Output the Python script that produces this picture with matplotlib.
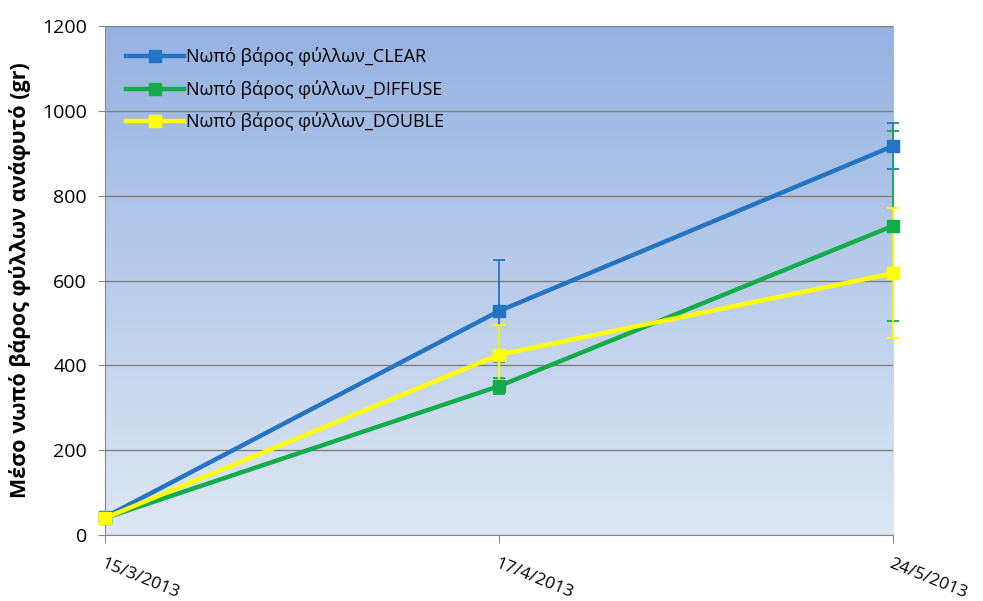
import matplotlib.pyplot as plt
from matplotlib.lines import Line2D
import numpy as np

dates = ['15/3/2013', '17/4/2013', '24/5/2013']
clear = [42, 528, 917]
clear_err = [0, 120, 55]
diffuse = [40, 351, 729]
diffuse_err = [0, 18, 224]
double = [40, 425, 617]
double_err = [0, 70, 153]
labels = ['Νωπό βάρος φύλλων_CLEAR', 'Νωπό βάρος φύλλων_DIFFUSE',
          'Νωπό βάρος φύλλων_DOUBLE']
colors = ['#2474c4', '#12ad4a', '#ffff00']

plt.rcParams['font.family'] = ['Open Sans', 'DejaVu Sans']

fig = plt.figure(figsize=(9.83, 6.01), dpi=100)
ax = fig.add_axes([0.1068, 0.1098, 0.8017, 0.8469])

# gradient background
grad = np.linspace(0, 1, 256).reshape(-1, 1)
top = np.array([150, 178, 226]) / 255
bot = np.array([222, 231, 243]) / 255
img = top * (1 - grad[..., None]) + bot * grad[..., None]
ax.imshow(img, extent=[0, 2, 0, 1200], aspect='auto', zorder=0)

x = np.arange(len(dates))
handles = []
for y, e, c, lab in zip([clear, diffuse, double], [clear_err, diffuse_err, double_err],
                        colors, labels):
    ax.errorbar(x, y, yerr=e, color=c, lw=3.2, marker='s', ms=8,
                elinewidth=1.3, capsize=4, capthick=1.3,
                clip_on=False, zorder=3)
    handles.append(Line2D([], [], color=c, lw=3.2, marker='s', ms=8, label=lab))

ax.set_xlim(0, 2)
ax.set_ylim(0, 1200)
ax.set_yticks(range(0, 1201, 200))
ax.set_xticks(x)
ax.set_xticklabels(dates, rotation=-22, ha='left', va='top', fontsize=12.5,
                   rotation_mode='anchor')
ax.tick_params(axis='y', labelsize=14, length=5, color='#888888', pad=8)
ax.tick_params(axis='x', length=6, color='#888888', pad=9)
ax.grid(axis='y', color='#7f7f7f', lw=1)
ax.set_axisbelow(False)
for s in ['top', 'right']:
    ax.spines[s].set_visible(False)
for s in ['left', 'bottom']:
    ax.spines[s].set_color('#888888')

ax.set_ylabel('Μέσο νωπό βάρος φύλλων ανάφυτό (gr)', fontsize=15.5,
              fontweight='bold', labelpad=8)

ax.legend(handles=handles, loc='upper left', frameon=False, fontsize=13,
          handlelength=3.2, borderaxespad=0.78, labelspacing=0.75,
          handletextpad=0.1)

fig.savefig('out.png', dpi=100)
